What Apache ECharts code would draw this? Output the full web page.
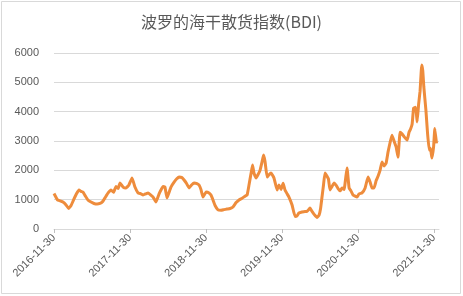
<!DOCTYPE html>
<html>
<head>
<meta charset="utf-8">
<script src="https://cdn.jsdelivr.net/npm/echarts@6/dist/echarts.min.js"></script>
<style>
html,body{margin:0;padding:0;background:#fff;}
#chart{width:463px;height:296px;}
</style>
</head>
<body>
<div id="chart"></div>
<script>
const titleText = '波罗的海干散货指数(BDI)';
const tickLabels = ['2016-11-30','2017-11-30','2018-11-30','2019-11-30','2020-11-30','2021-11-30'];
const yTicks = [0,1000,2000,3000,4000,5000,6000];
const dates = [
'2016-11-30','2016-12-17','2016-12-29','2017-01-12','2017-01-27','2017-02-08','2017-02-20','2017-03-04','2017-03-18','2017-03-30',
'2017-04-09','2017-04-18','2017-04-30','2017-05-12','2017-05-27','2017-06-10','2017-06-25','2017-07-09','2017-07-21','2017-08-02',
'2017-08-17','2017-08-31','2017-09-12','2017-09-24','2017-10-04','2017-10-13','2017-10-28','2017-11-11','2017-11-25','2017-12-10',
'2017-12-24','2018-01-08','2018-01-22','2018-02-01','2018-02-15','2018-02-25','2018-03-11','2018-03-21','2018-04-04','2018-04-19',
'2018-04-28','2018-05-08','2018-05-17','2018-05-27','2018-06-06','2018-06-15','2018-06-30','2018-07-14','2018-07-24','2018-08-07',
'2018-08-17','2018-08-29','2018-09-10','2018-09-22','2018-10-04','2018-10-18','2018-10-28','2018-11-06','2018-11-16','2018-12-01',
'2018-12-15','2018-12-25','2019-01-03','2019-01-13','2019-01-27','2019-02-11','2019-02-25','2019-03-11','2019-03-26','2019-04-09',
'2019-04-24','2019-05-08','2019-05-23','2019-06-06','2019-06-16','2019-06-25','2019-07-05','2019-07-12','2019-07-19','2019-07-29',
'2019-08-07','2019-08-17','2019-08-27','2019-09-03','2019-09-10','2019-09-20','2019-09-29','2019-10-09','2019-10-23','2019-11-07',
'2019-11-16','2019-11-26','2019-12-06','2019-12-15','2019-12-25','2020-01-03','2020-01-18','2020-02-01','2020-02-11','2020-02-20',
'2020-03-06','2020-03-20','2020-03-30','2020-04-13','2020-04-23','2020-05-03','2020-05-17','2020-05-27','2020-06-03','2020-06-10',
'2020-06-17','2020-06-24','2020-07-04','2020-07-11','2020-07-18','2020-07-28','2020-08-07','2020-08-16','2020-08-26','2020-09-05',
'2020-09-14','2020-09-24','2020-10-08','2020-10-18','2020-10-27','2020-11-06','2020-11-16','2020-11-25','2020-12-05','2020-12-19',
'2021-01-03','2021-01-17','2021-01-27','2021-02-05','2021-02-15','2021-02-25','2021-03-06','2021-03-16','2021-03-25','2021-04-04',
'2021-04-14','2021-04-23','2021-05-03','2021-05-12','2021-05-22','2021-06-01','2021-06-10','2021-06-20','2021-06-29','2021-07-09',
'2021-07-24','2021-08-02','2021-08-09','2021-08-17','2021-08-24','2021-09-03','2021-09-10','2021-09-17','2021-09-24','2021-10-02',
'2021-10-07','2021-10-12','2021-10-22','2021-10-30','2021-11-07','2021-11-13','2021-11-20','2021-11-28','2021-12-04','2021-12-12'
];
const bdi = [
1210,990,960,920,820,700,800,990,1200,1330,
1280,1260,1120,990,920,870,850,870,930,1060,
1230,1330,1250,1450,1380,1570,1430,1400,1500,1740,
1430,1230,1200,1160,1200,1230,1150,1090,920,1200,
1330,1450,1430,1060,1250,1430,1600,1720,1770,1750,
1670,1550,1400,1500,1570,1550,1500,1350,1090,1260,
1230,1150,990,800,650,640,660,680,700,750,
900,990,1050,1120,1160,1500,1900,2180,1900,1740,
1850,2000,2300,2520,2300,1770,1850,1910,1740,1330,
1500,1350,1560,1330,1200,1090,820,430,450,545,
580,600,600,715,600,500,390,480,700,1100,
1500,1910,1800,1700,1330,1450,1570,1500,1380,1300,
1400,1350,2080,1400,1300,1160,1120,1090,1200,1230,
1400,1770,1600,1400,1400,1650,1800,2010,2280,2150,
2250,2620,2950,3200,3000,2800,2450,3300,3250,3150,
3030,3300,3400,3580,4120,4150,3650,4250,4700,5590,
5400,4850,4060,3260,2690,2750,2420,2800,3430,2920
];
const axisStart = '2016-11-30';
const axisEnd = '2021-12-24';

function toTime(s){ const p = s.split('-').map(Number); return Date.UTC(p[0], p[1]-1, p[2]); }
const tickTimes = tickLabels.map(toTime);
const seriesData = dates.map((d,i)=>[toTime(d), bdi[i]]);

const chart = echarts.init(document.getElementById('chart'), null, {renderer:'canvas'});
const labelColor = '#595959';
chart.setOption({
  animation:false,
  backgroundColor:'#ffffff',
  title:{
    text:titleText, left:'center', top:9,
    textStyle:{fontSize:16, fontWeight:'normal', color:labelColor, fontFamily:'Noto Sans CJK SC'}
  },
  graphic:[{type:'rect', shape:{x:1.5,y:1.5,width:459,height:292}, style:{fill:'none', stroke:'#D9D9D9', lineWidth:1}, silent:true}],
  grid:{left:54, right:24, top:53, bottom:67, containLabel:false},
  xAxis:{
    type:'value', min:toTime(axisStart), max:toTime(axisEnd), scale:true,
    axisLine:{show:true, lineStyle:{color:'#D9D9D9', width:1}},
    axisTick:{show:true, customValues:tickTimes, length:4, lineStyle:{color:'#BFBFBF'}},
    splitLine:{show:false},
    axisLabel:{
      customValues:tickTimes, rotate:45, margin:7, fontSize:11, color:labelColor, fontFamily:'Liberation Sans',
      formatter:function(v){ const i = tickTimes.indexOf(v); return i>=0 ? tickLabels[i] : ''; }
    }
  },
  yAxis:{
    type:'value', min:yTicks[0], max:yTicks[yTicks.length-1], interval:1000,
    axisLine:{show:false}, axisTick:{show:false},
    splitLine:{lineStyle:{color:'#D9D9D9', width:1}},
    axisLabel:{fontSize:11, color:labelColor, margin:15, fontFamily:'Liberation Sans',
      formatter:function(v){ return String(v); }}
  },
  series:[{
    type:'line', data:seriesData, showSymbol:false, smooth:0.1,
    lineStyle:{color:'#EE8C3C', width:3, join:'round'},
    itemStyle:{color:'#EE8C3C'}
  }]
});
</script>
</body>
</html>
